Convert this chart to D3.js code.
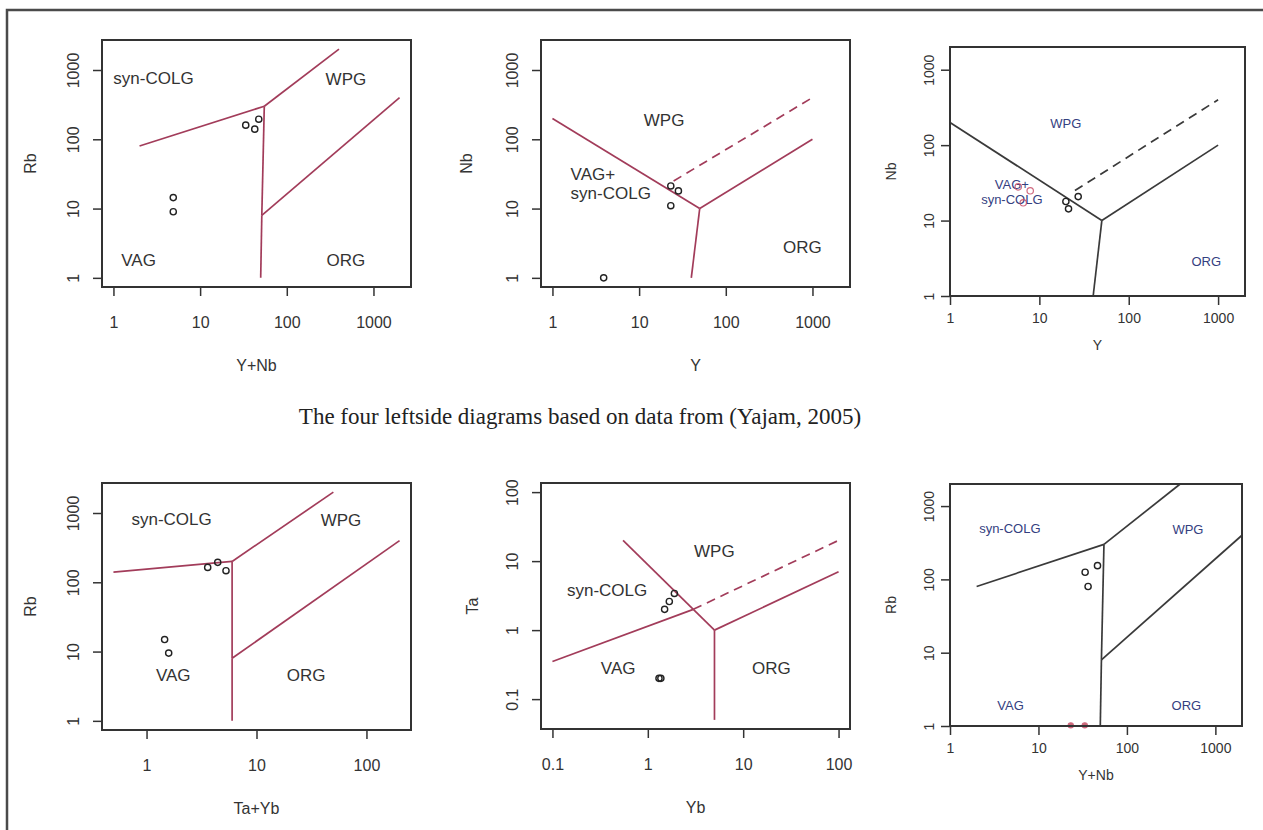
<!DOCTYPE html>
<html><head><meta charset="utf-8">
<script src="https://cdn.jsdelivr.net/npm/d3@7"></script>
<style>body{margin:0;background:#fff} svg{display:block}</style>
</head><body><svg id="c" width="1263" height="830"></svg>
<script>
// ---------- tick values ----------
const ticksDecade = [1, 10, 100, 1000];
const ticksYb = [0.1, 1, 10, 100];
const ticksTaYb = [1, 10, 100];
const ticksTa = [0.1, 1, 10, 100];

// ---------- sample points ----------
// Panel 1: Rb vs Y+Nb
const p1X = [33.6, 42.7, 47.5, 4.9, 4.9];
const p1Y = [160, 140, 195, 14.4, 9.0];
// Panel 2: Nb vs Y
const p2X = [23.2, 28.4, 23.2, 3.9];
const p2Y = [21.2, 18, 11, 1.0];
// Panel 3: Nb vs Y
const p3X = [19.8, 21.2, 27.2];
const p3Y = [17.9, 14.3, 20.8];
const p3RedX = [5.8, 7.9, 6.6];
const p3RedY = [28, 24.8, 17.2];
// Panel 4: Rb vs Ta+Yb
const p4X = [3.6, 4.44, 5.28, 1.46, 1.59];
const p4Y = [164, 194, 147, 14.9, 9.5];
// Panel 5: Ta vs Yb
const p5X = [1.5, 1.68, 1.9, 1.31, 1.37];
const p5Y = [2.0, 2.6, 3.4, 0.2, 0.2];
// Panel 6: Rb vs Y+Nb
const p6X = [33.7, 46.5, 36.4];
const p6Y = [125, 154, 80];
const p6RedX = [23.2, 33.4];
const p6RedY = [1.02, 1.02];

// ---------- discrimination boundaries (Pearce et al. 1984) ----------
const rbYNbLines = [[[2,80],[55,300]], [[55,300],[400,2000]], [[55,300],[51.5,8]], [[51.5,8],[50,1]], [[51.5,8],[2000,400]]];
const nbYLines = [[[1,200],[50,10]], [[50,10],[1000,100]], [[50,10],[40,1]]];
const nbYDashed = [[[25,25],[1000,400]]];
const rbTaYbLines = [[[0.5,140],[6,200]], [[6,200],[50,2000]], [[6,200],[6,8]], [[6,8],[6,1]], [[6,8],[200,400]]];
const taYbLines = [[[0.55,20],[3,2]], [[3,2],[5,1]], [[5,1],[5,0.05]], [[5,1],[100,7]], [[0.1,0.35],[3,2]]];
const taYbDashed = [[[3,2],[100,20]]];

// ---------- field labels ----------
const p1Labels = ["syn-COLG", "WPG", "VAG", "ORG"];
const p1LabelX = [2.9, 481, 1.95, 481];
const p1LabelY = [766, 741, 1.82, 1.82];
const p2Labels = ["WPG", "VAG+", "syn-COLG", "ORG"];
const p2LabelX = [19.4, 1.62, 1.62, 765];
const p2LabelY = [189, 31, 16.5, 2.78];
const p3Labels = ["WPG", "VAG+", "syn-COLG", "ORG"];
const p3LabelX = [19.8, 4.92, 4.92, 736];
const p3LabelY = [196, 29.8, 18.8, 2.86];
const p4Labels = ["syn-COLG", "WPG", "VAG", "ORG"];
const p4LabelX = [1.69, 58.7, 1.75, 28.3];
const p4LabelY = [807, 780, 4.6, 4.6];
const p5Labels = ["WPG", "syn-COLG", "VAG", "ORG"];
const p5LabelX = [4.99, 0.374, 0.489, 19.8];
const p5LabelY = [14, 3.8, 0.278, 0.278];
const p6Labels = ["syn-COLG", "WPG", "VAG", "ORG"];
const p6LabelX = [4.75, 490, 4.84, 470];
const p6LabelY = [491, 480, 1.88, 1.88];

const caption = "The four leftside diagrams based on data from (Yajam, 2005)";

// ---------- drawing ----------
const svg = d3.select("#c");
svg.append("rect").attr("width", 1263).attr("height", 830).attr("fill", "#fff");
svg.append("path").attr("d", "M7,830V10H1263").attr("fill", "none").attr("stroke", "#4a4a4a").attr("stroke-width", 2.5);

function padLog(lo, hi) {
  const a = Math.log10(lo), b = Math.log10(hi), d = (b - a) * 0.04;
  return [Math.pow(10, a - d), Math.pow(10, b + d)];
}

const RED = "#a23c5a";
const FONT = "'Liberation Sans', Arial, sans-serif";

function panel(o) {
  const g = svg.append("g");
  const x = d3.scaleLog().domain(o.xDom).range([o.x0, o.x1]);
  const y = d3.scaleLog().domain(o.yDom).range([o.y1, o.y0]);
  const fs = o.small ? 14 : 16;
  const tickCol = "#333";

  // axes
  const ax = g.append("g").attr("transform", `translate(0,${o.y1})`)
    .call(d3.axisBottom(x).tickValues(o.xTicks).tickSize(9).tickSizeOuter(0).tickFormat(d3.format("~g")));
  ax.select(".domain").remove();
  ax.selectAll("line").attr("stroke", "#333").attr("stroke-width", 1.5);
  ax.selectAll("text").attr("y", o.small ? 22 : 35).attr("dy", "0.35em")
    .attr("font-family", FONT).attr("font-size", fs).attr("fill", tickCol);

  const ay = g.append("g").attr("transform", `translate(${o.x0},0)`)
    .call(d3.axisLeft(y).tickValues(o.yTicks).tickSize(9).tickSizeOuter(0).tickFormat(d3.format("~g")));
  ay.select(".domain").remove();
  ay.selectAll("line").attr("stroke", "#333").attr("stroke-width", 1.5);
  const off = o.small ? 21 : 29;
  ay.selectAll("text").attr("x", null).attr("y", null).attr("dy", "0.35em")
    .attr("text-anchor", "middle")
    .attr("transform", `translate(${-off},0) rotate(-90)`)
    .attr("font-family", FONT).attr("font-size", fs).attr("fill", tickCol);

  // boundary lines
  const line = d3.line().x(d => x(d[0])).y(d => y(d[1]));
  g.selectAll(null).data(o.lines).join("path")
    .attr("d", line).attr("fill", "none")
    .attr("stroke", o.lineColor).attr("stroke-width", 1.7);
  g.selectAll(null).data(o.dashed || []).join("path")
    .attr("d", line).attr("fill", "none")
    .attr("stroke", o.lineColor).attr("stroke-width", 1.7).attr("stroke-dasharray", "9,6");

  // field labels
  g.selectAll(null).data(o.labels.map((t, i) => ({t, x: o.labelX[i], y: o.labelY[i]}))).join("text")
    .attr("x", d => x(d.x)).attr("y", d => y(d.y)).attr("dy", "0.35em")
    .attr("text-anchor", o.labelAnchor ? ((d, i) => o.labelAnchor[i]) : "middle")
    .attr("font-family", FONT).attr("font-size", o.small ? 13 : 17)
    .attr("fill", o.small ? "#34407f" : "#333")
    .text(d => d.t);

  // red points
  if (o.redX) {
    g.selectAll(null).data(o.redX.map((v, i) => [v, o.redY[i]])).join("circle")
      .attr("cx", d => x(d[0])).attr("cy", d => y(d[1])).attr("r", o.redFill ? 2.6 : 3.2)
      .attr("fill", o.redFill ? "#c05060" : "none").attr("stroke", "#c8506a").attr("stroke-width", 1.2)
      .attr("opacity", 0.85);
  }
  // sample points
  g.selectAll(null).data(o.px.map((v, i) => [v, o.py[i]])).join("circle")
    .attr("cx", d => x(d[0])).attr("cy", d => y(d[1])).attr("r", 3.1)
    .attr("fill", "none").attr("stroke", "#222").attr("stroke-width", 1.4);

  // frame
  g.append("rect").attr("x", o.x0).attr("y", o.y0).attr("width", o.x1 - o.x0).attr("height", o.y1 - o.y0)
    .attr("fill", "none").attr("stroke", "#333").attr("stroke-width", 2);

  // axis titles
  g.append("text").attr("x", (o.x0 + o.x1) / 2).attr("y", o.y1 + (o.small ? 49 : 78)).attr("dy", "0.35em")
    .attr("text-anchor", "middle").attr("font-family", FONT).attr("font-size", fs).attr("fill", "#333").text(o.xTitle);
  g.append("text").attr("transform", `translate(${o.titleX},${(o.y0 + o.y1) / 2}) rotate(-90)`).attr("dy", "0.35em")
    .attr("text-anchor", "middle").attr("font-family", FONT).attr("font-size", fs).attr("fill", "#333").text(o.yTitle);
}

panel({x0: 102, x1: 411, y0: 40, y1: 287, xDom: padLog(1, 2000), yDom: padLog(1, 2000),
  xTicks: ticksDecade, yTicks: ticksDecade, lines: rbYNbLines, lineColor: RED,
  labels: p1Labels, labelX: p1LabelX, labelY: p1LabelY, px: p1X, py: p1Y,
  xTitle: "Y+Nb", yTitle: "Rb", titleX: 30});

panel({x0: 541, x1: 850, y0: 40, y1: 287, xDom: padLog(1, 2000), yDom: padLog(1, 2000),
  xTicks: ticksDecade, yTicks: ticksDecade, lines: nbYLines, dashed: nbYDashed, lineColor: RED,
  labels: p2Labels, labelX: p2LabelX, labelY: p2LabelY, labelAnchor: ["middle", "start", "start", "middle"],
  px: p2X, py: p2Y, xTitle: "Y", yTitle: "Nb", titleX: 466});

panel({x0: 950, x1: 1245, y0: 47, y1: 296, xDom: [1, 2000], yDom: [1, 2000], small: true,
  xTicks: ticksDecade, yTicks: ticksDecade, lines: nbYLines, dashed: nbYDashed, lineColor: "#3a3a3a",
  labels: p3Labels, labelX: p3LabelX, labelY: p3LabelY, px: p3X, py: p3Y,
  redX: p3RedX, redY: p3RedY,
  xTitle: "Y", yTitle: "Nb", titleX: 891});

panel({x0: 102, x1: 411, y0: 483, y1: 730, xDom: padLog(0.5, 200), yDom: padLog(1, 2000),
  xTicks: ticksTaYb, yTicks: ticksDecade, lines: rbTaYbLines, lineColor: RED,
  labels: p4Labels, labelX: p4LabelX, labelY: p4LabelY, px: p4X, py: p4Y,
  xTitle: "Ta+Yb", yTitle: "Rb", titleX: 30});

panel({x0: 541, x1: 850, y0: 483, y1: 729, xDom: padLog(0.1, 100), yDom: padLog(0.05, 100),
  xTicks: ticksYb, yTicks: ticksTa, lines: taYbLines, dashed: taYbDashed, lineColor: RED,
  labels: p5Labels, labelX: p5LabelX, labelY: p5LabelY, px: p5X, py: p5Y,
  xTitle: "Yb", yTitle: "Ta", titleX: 472});

panel({x0: 950, x1: 1242, y0: 484, y1: 726, xDom: [1, 2000], yDom: [1, 2000], small: true,
  xTicks: ticksDecade, yTicks: ticksDecade, lines: rbYNbLines, lineColor: "#3a3a3a",
  labels: p6Labels, labelX: p6LabelX, labelY: p6LabelY, px: p6X, py: p6Y,
  redX: p6RedX, redY: p6RedY, redFill: true,
  xTitle: "Y+Nb", yTitle: "Rb", titleX: 891});

svg.append("text").attr("x", 580).attr("y", 424).attr("text-anchor", "middle")
  .attr("font-family", "'Liberation Serif', 'Times New Roman', serif").attr("font-size", 23)
  .attr("fill", "#222").text(caption);
</script>
</body></html>
